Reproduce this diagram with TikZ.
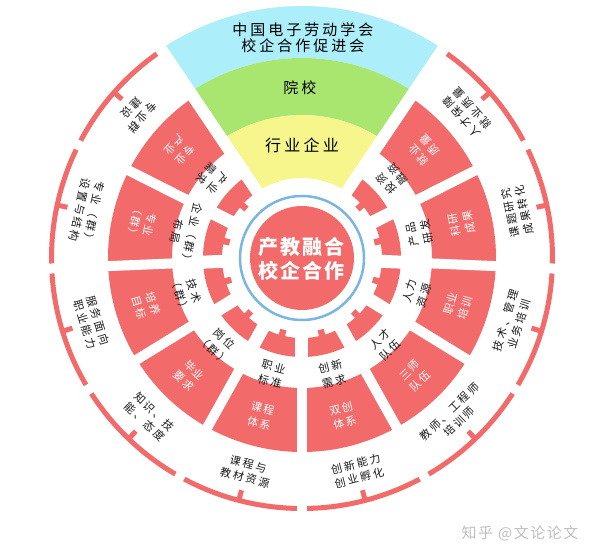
\documentclass[tikz,border=0pt]{standalone}
\usepackage{fontspec}
\setmainfont{Noto Sans CJK SC}
\newfontfamily\cjkA[LetterSpace=20]{Noto Sans CJK SC}
\newfontfamily\cjkM[LetterSpace=12]{Noto Sans CJK SC}
\newfontfamily\cjkF[LetterSpace=20]{Noto Sans CJK SC}
\newfontfamily\cjkC[LetterSpace=10]{Noto Sans CJK SC}
\definecolor{pred}{RGB}{242,106,106}
\definecolor{fanblue}{RGB}{172,238,250}
\definecolor{fangreen}{RGB}{168,230,112}
\definecolor{fanyellow}{RGB}{246,246,140}
\definecolor{ringblue}{RGB}{122,182,226}
\newcommand{\annsec}[4]{(#1:#3pt) arc[start angle=#1, end angle=#2, radius=#3pt] -- (#2:#4pt) arc[start angle=#2, end angle=#1, radius=#4pt] -- cycle}
\begin{document}
\begin{tikzpicture}[x=1pt,y=1pt,
  ilab/.style={font=\cjkA\fontsize{11}{15}\selectfont, align=center, text=black!90, inner sep=0pt},
  mlab/.style={font=\cjkM\fontsize{11}{15}\selectfont, align=center, text=white, inner sep=0pt},
  olab/.style={font=\cjkA\fontsize{11}{14}\selectfont, align=center, text=black!90, inner sep=0pt}]
\useasboundingbox (-302,-299) rectangle (298,258);
\fill[white] (-302,-299) rectangle (298,258);
% fan
\fill[fanblue] \annsec{56}{124}{200}{252};
\fill[fangreen] \annsec{56}{124}{143}{200};
\fill[fanyellow] \annsec{56}{124}{80}{143};
% sector rings
\foreach \i in {0,...,9}{
  \pgfmathsetmacro\a{124+29.2*\i}
  \pgfmathsetmacro\b{124+29.2*(\i+1)}
  \fill[pred] \annsec{\a}{\b}{248}{253};
  \fill[pred] \annsec{\a}{\b}{130}{194};
  \fill[pred] \annsec{\a}{\b}{80}{99};
}
% gaps
\foreach \i in {1,...,9}{
  \pgfmathsetmacro\a{124+29.2*\i}
  \draw[white, line width=13pt] (\a:70pt) -- (\a:104pt);
  \draw[white, line width=10pt] (\a:120pt) -- (\a:200pt);
  \draw[white, line width=10pt] (\a:235pt) -- (\a:260pt);
}
\foreach \a in {56,124}{\draw[white, line width=12pt] (\a:66pt) -- (\a:262pt);}
% tabs
\foreach \i in {0,...,9}{
  \pgfmathsetmacro\m{124+29.2*(\i+0.5)}
  \fill[pred, rotate=\m] (240,-2.5) rectangle (249,2.5);
  \fill[pred, rotate=\m] (74,-3.2) rectangle (81,3.2);
}
% centre
\draw[ringblue, line width=2.5pt] (0,0) circle[radius=62pt];
\fill[pred] (0,0) circle[radius=52pt];
\node[font=\cjkC\bfseries\fontsize{20}{24}\selectfont, text=white, align=center] (core) at (0,-1) {产教融合\\校企合作};
% fan texts
\node[font=\cjkF\fontsize{15}{16}\selectfont, align=center, inner sep=0pt] (org) at (1,220) {中国电子劳动学会\\校企合作促进会};
\node[font=\cjkF\fontsize{15}{16}\selectfont, inner sep=0pt] (yx) at (-2,170) {院校};
\node[font=\cjkF\fontsize{16}{16}\selectfont, inner sep=0pt] (hy) at (0,113) {行业企业};
% sector texts
\foreach \i/\ti/\tm/\tout in {
 0/{产业\\需求}/{专业\\产业}/{专业群\\建设},
 1/{企业（群）\\布局}/{专业\\（群）}/{专业（群）\\设置与结构},
 2/{技术\\（群）}/{培养\\目标}/{服务面向\\职业能力},
 3/{岗位\\（群）}/{毕业\\要求}/{知识、技\\能、态度},
 4/{职业\\标准}/{课程\\体系}/{课程与\\教材资源},
 5/{创新\\需求}/{双创\\体系}/{创新能力\\创业孵化},
 6/{人才\\队伍}/{三师\\队伍}/{教师、工程师\\培训师},
 7/{人力\\资源}/{职业\\培训}/{技术、管理\\业务培训},
 8/{产品\\研发}/{科研\\成果}/{课题研究\\成果转化},
 9/{投资\\融资}/{就业\\质量}/{人才保障\\就业质量}}{
  \pgfmathsetmacro\m{124+29.2*(\i+0.5)}
  \node[ilab, rotate=\m+90] (in\i) at (\m:120pt) {\ti};
  \node[mlab, rotate=\m+90] (mid\i) at (\m:163pt) {\tm};
  \node[olab, rotate=\m+90] (out\i) at (\m:220pt) {\tout};
}
% watermark
\node[font=\cjkC\fontsize{15}{15}\selectfont, text=black!25] (wm) at (218,-275) {知乎 @文论论文};
\end{tikzpicture}
\end{document}
